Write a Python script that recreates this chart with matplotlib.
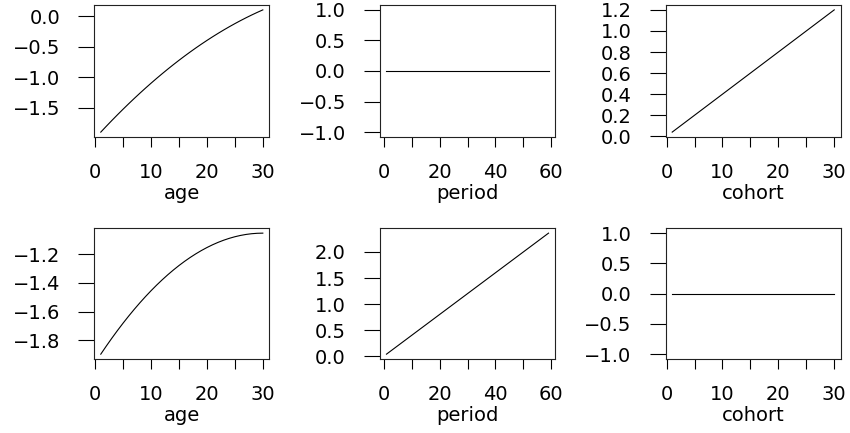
import matplotlib
matplotlib.use("Agg")
import matplotlib.pyplot as plt
from matplotlib.ticker import FuncFormatter

plt.rcParams['font.family'] = ['DejaVu Sans']

# ---- data -------------------------------------------------------------
age = list(range(1, 31))
period = list(range(1, 60))
cohort = list(range(1, 31))

# first parameterisation: age effect, flat period effect, linear cohort trend
age_effect_1 = [-1.896, -1.799, -1.704, -1.611, -1.520, -1.431, -1.344, -1.259,
                -1.176, -1.095, -1.016, -0.939, -0.864, -0.791, -0.720, -0.651,
                -0.584, -0.519, -0.456, -0.395, -0.336, -0.279, -0.224, -0.171,
                -0.120, -0.071, -0.024, 0.021, 0.064, 0.105]
period_effect_1 = [0.0] * 59
cohort_effect_1 = [0.04, 0.08, 0.12, 0.16, 0.20, 0.24, 0.28, 0.32, 0.36, 0.40,
                   0.44, 0.48, 0.52, 0.56, 0.60, 0.64, 0.68, 0.72, 0.76, 0.80,
                   0.84, 0.88, 0.92, 0.96, 1.00, 1.04, 1.08, 1.12, 1.16, 1.20]

# second parameterisation: age effect, linear period trend, flat cohort effect
age_effect_2 = [-1.896, -1.839, -1.784, -1.731, -1.680, -1.631, -1.584, -1.539,
                -1.496, -1.455, -1.416, -1.379, -1.344, -1.311, -1.280, -1.251,
                -1.224, -1.199, -1.176, -1.155, -1.136, -1.119, -1.104, -1.091,
                -1.080, -1.071, -1.064, -1.059, -1.056, -1.055]
period_effect_2 = [0.04, 0.08, 0.12, 0.16, 0.20, 0.24, 0.28, 0.32, 0.36, 0.40,
                   0.44, 0.48, 0.52, 0.56, 0.60, 0.64, 0.68, 0.72, 0.76, 0.80,
                   0.84, 0.88, 0.92, 0.96, 1.00, 1.04, 1.08, 1.12, 1.16, 1.20,
                   1.24, 1.28, 1.32, 1.36, 1.40, 1.44, 1.48, 1.52, 1.56, 1.60,
                   1.64, 1.68, 1.72, 1.76, 1.80, 1.84, 1.88, 1.92, 1.96, 2.00,
                   2.04, 2.08, 2.12, 2.16, 2.20, 2.24, 2.28, 2.32, 2.36]
cohort_effect_2 = [0.0] * 30

# axis ticks
age_ticks = [0, 5, 10, 15, 20, 25, 30]
age_ticklabels = ['0', '', '10', '', '20', '', '30']
period_ticks = [0, 10, 20, 30, 40, 50, 60]
period_ticklabels = ['0', '', '20', '', '40', '', '60']
yticks_age_1 = [-1.5, -1.0, -0.5, 0.0]
yticks_flat = [-1.0, -0.5, 0.0, 0.5, 1.0]
yticks_cohort_1 = [0.0, 0.2, 0.4, 0.6, 0.8, 1.0, 1.2]
yticks_age_2 = [-1.8, -1.6, -1.4, -1.2]
yticks_period_2 = [0.0, 0.5, 1.0, 1.5, 2.0]

# ---- layout -----------------------------------------------------------
W, H = 850, 433
fig = plt.figure(figsize=(W / 100, H / 100), dpi=100)

col_left = [94.3, 380.0, 665.7]
col_width = 175.0
row_top = [5.0, 228.3]
row_height = [132.0, 130.7]

FS = 14


def pad_range(vals):
    lo, hi = min(vals), max(vals)
    if hi == lo:
        lo, hi = lo - 1, hi + 1
    d = (hi - lo) * 0.04
    return lo - d, hi + d


def one_decimal(v, pos):
    return f"{v:.1f}".replace('-', '\u2212')


panels = [
    (0, 0, age, age_effect_1, age_ticks, age_ticklabels, yticks_age_1, 'age'),
    (0, 1, period, period_effect_1, period_ticks, period_ticklabels, yticks_flat, 'period'),
    (0, 2, cohort, cohort_effect_1, age_ticks, age_ticklabels, yticks_cohort_1, 'cohort'),
    (1, 0, age, age_effect_2, age_ticks, age_ticklabels, yticks_age_2, 'age'),
    (1, 1, period, period_effect_2, period_ticks, period_ticklabels, yticks_period_2, 'period'),
    (1, 2, cohort, cohort_effect_2, age_ticks, age_ticklabels, yticks_flat, 'cohort'),
]

for r, c, x, y, xt, xtl, yt, xlabel in panels:
    left = col_left[c] / W
    bottom = 1 - (row_top[r] + row_height[r]) / H
    ax = fig.add_axes([left, bottom, col_width / W, row_height[r] / H])
    ax.plot(x, y, color='black', lw=0.8)
    ax.set_xlim(*pad_range(x))
    ax.set_ylim(*pad_range(y))
    ax.set_xticks(xt)
    ax.set_xticklabels(xtl)
    ax.set_yticks(yt)
    ax.yaxis.set_major_formatter(FuncFormatter(one_decimal))
    ax.tick_params(axis='x', direction='out', length=7.5, width=0.8, pad=11,
                   labelsize=FS)
    ax.tick_params(axis='y', direction='out', length=11.5, width=0.8, pad=13,
                   labelsize=FS)
    ax.set_xlabel(xlabel, fontsize=FS, labelpad=2)
    for s in ax.spines.values():
        s.set_linewidth(0.8)
        s.set_color('#222222')

fig.savefig('out.png', dpi=100)
